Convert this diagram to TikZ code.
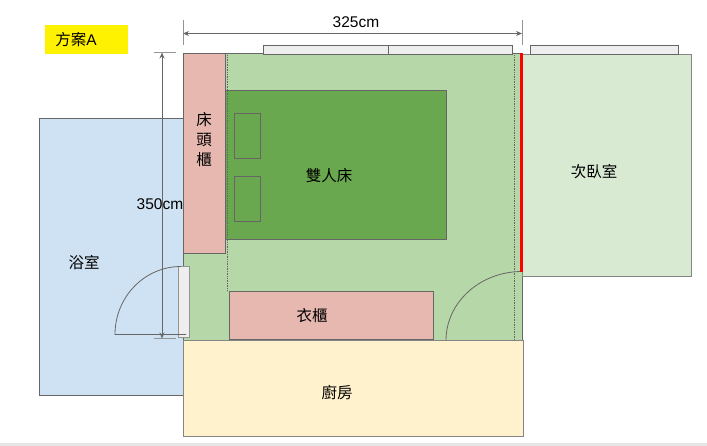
\documentclass[tikz,border=0pt]{standalone}
\usepackage{fontspec}
\setmainfont{Liberation Sans}
\newfontfamily\cjk{Noto Sans CJK TC}
\usetikzlibrary{arrows.meta}
\definecolor{roomgreen}{HTML}{B6D7A8}
\definecolor{bedgreen}{HTML}{6AA84F}
\definecolor{cabinetpink}{HTML}{E6B8AF}
\definecolor{bathblue}{HTML}{CFE2F3}
\definecolor{kitchenyellow}{HTML}{FFF2CC}
\definecolor{sidegreen}{HTML}{D9EAD3}
\definecolor{panelgrey}{HTML}{EEEEEE}
\definecolor{wallgrey}{HTML}{666666}
\tikzset{
  wall/.style={draw=wallgrey,line width=1pt},
  dimline/.style={draw=wallgrey,line width=0.9pt,{Stealth[length=6pt,width=5pt]}-{Stealth[length=6pt,width=5pt]}},
  dimtick/.style={draw=wallgrey!70,line width=0.9pt},
  label/.style={text=black,inner sep=0pt,font=\fontsize{15.5}{18}\selectfont},
  cjklabel/.style={label,font=\cjk\fontsize{15.5}{18}\selectfont}
}
\begin{document}
\begin{tikzpicture}[x=1pt,y=-1pt]
\useasboundingbox (0,0) rectangle (707,446);
\fill[black!10] (0,443) rectangle (707,446);

% rooms
\draw[wall,fill=bathblue] (39,118.5) rectangle (183,395.5);
\draw[wall,fill=roomgreen] (183,53.5) rectangle (522,340.5);
\draw[wall,draw=wallgrey!80,fill=kitchenyellow] (183,340.5) rectangle (523,436.5);
\draw[wall,draw=wallgrey!80,fill=sidegreen] (522,54.5) rectangle (691,276.5);

% furniture
\draw[wall,fill=bedgreen] (225,90.5) rectangle (446,239.5);
\draw[wall,fill=bedgreen] (234,113.5) rectangle (260,158.5);
\draw[wall,fill=bedgreen] (234,176.5) rectangle (260,221.5);
\draw[wall,fill=cabinetpink] (183,53.5) rectangle (225,253.5);
\draw[wall,fill=cabinetpink] (229,291.5) rectangle (433,339.5);
\draw[wallgrey,densely dotted,line width=0.7pt] (227,53.5) -- (227,291.5);
\draw[wallgrey,densely dotted,line width=0.7pt] (514,53.5) -- (514,340.5);

% windows
\draw[wall,fill=panelgrey] (263,45.5) rectangle (388,54.5);
\draw[wall,fill=panelgrey] (388,45.5) rectangle (512,54.5);
\draw[wall,fill=panelgrey] (530,45.5) rectangle (678,54.5);

% doors
\draw[wall,draw=wallgrey!70,fill=panelgrey] (178,266.5) rectangle (189,337.5);
\draw[wallgrey,line width=0.8pt] (181,266.5) arc[start angle=-90,end angle=-180,x radius=66,y radius=68] -- (186,334.5);
\draw[wallgrey,line width=0.8pt] (446,340.5) arc[start angle=180,end angle=270,x radius=76,y radius=69];
\draw[red,line width=3.5pt] (521.5,53.5) -- (521.5,272);

% dimensions
\coordinate (wtop) at (183,20);
\coordinate (wbot) at (183,45);
\coordinate (etop) at (522,20);
\coordinate (ebot) at (522,45);
\coordinate (warrow) at (183,33.5);
\coordinate (earrow) at (522,33.5);
\coordinate (narrow) at (162,52.5);
\coordinate (sarrow) at (162,338.5);
\draw[dimtick] (wtop) -- (wbot);
\draw[dimtick] (etop) -- (ebot);
\draw[dimtick] (154,52.5) -- (176,52.5);
\draw[dimtick] (154,338.5) -- (176,338.5);
\draw[dimline] (warrow) -- (earrow);
\draw[dimline] (narrow) -- (sarrow);

% labels
\fill[yellow] (45,25) rectangle (128,54);
\node[label] (plan) at (76,40) {{\cjk 方案}A};
\node[label] (width) at (356,22) {325cm};
\node[label] (height) at (160,204) {350cm};
\node[cjklabel,align=center,font=\cjk\fontsize{15.5}{20}\selectfont] (cabinet) at (204,140) {床\\頭\\櫃};
\node[cjklabel] (bed) at (329,176) {雙人床};
\node[cjklabel] (bedroom) at (594,172) {次臥室};
\node[cjklabel] (bath) at (84,263) {浴室};
\node[cjklabel] (closet) at (312,316) {衣櫃};
\node[cjklabel] (kitchen) at (337,392.5) {廚房};
\end{tikzpicture}
\end{document}
